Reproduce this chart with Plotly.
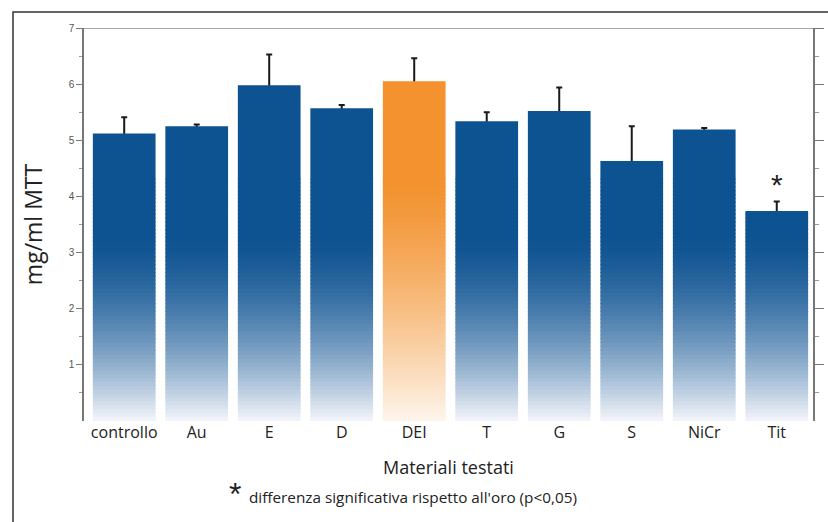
import numpy as np
import plotly.graph_objects as go

categories = ["controllo", "Au", "E", "D", "DEI", "T", "G", "S", "NiCr", "Tit"]
values = [5.12, 5.25, 5.98, 5.57, 6.05, 5.34, 5.52, 4.63, 5.19, 3.74]
err_plus = [0.29, 0.03, 0.55, 0.06, 0.41, 0.16, 0.42, 0.62, 0.03, 0.17]
highlight = "DEI"
significant = ["Tit"]
y_ticks = [1, 2, 3, 4, 5, 6, 7]
minor_ticks = [0.5, 1.5, 2.5, 3.5, 4.5, 5.5, 6.5]

blue = np.array([13, 82, 145])
orange = np.array([243, 146, 47])
white_b = np.array([244, 246, 251])
white_o = np.array([254, 246, 236])

def mix(c, w, t):
    r = w + (c - w) * t
    return "rgb(%d,%d,%d)" % tuple(r.astype(int))

def blue_at(v):
    t = 1 - max(0, 1 - v / 3.4) ** 1.6
    return mix(blue, white_b, t)

def orange_at(v):
    t = 1 - max(0, 1 - v / 4.3) ** 1.3
    return mix(orange, white_o, t)

fig = go.Figure()

# error bars first so the bars hide the lower cap
fig.add_trace(go.Bar(x=categories, y=[v - 0.03 for v in values], width=0.865,
                     marker=dict(color="rgba(0,0,0,0)", line=dict(width=0)),
                     error_y=dict(type="data", symmetric=False, array=[e + 0.03 for e in err_plus],
                                  arrayminus=[0] * len(values), color="#1a1a1a",
                                  thickness=2, width=3),
                     showlegend=False, hoverinfo="skip"))

# fake vertical gradient: stack thin slices, colour depends on height
fade_top = 4.3
edges = np.linspace(0, fade_top, 63)
for i in range(len(edges) - 1):
    lo, hi = edges[i], edges[i + 1]
    mid = (lo + hi) / 2
    heights = [max(0, min(v, hi) - lo) for v in values]
    heights = [h + 0.02 if h > 0 and v > hi else h for h, v in zip(heights, values)]
    cols = [orange_at(mid) if c == highlight else blue_at(mid) for c in categories]
    fig.add_trace(go.Bar(x=categories, y=heights, base=[lo] * len(values),
                         marker=dict(color=cols, line=dict(width=0)), width=0.865,
                         showlegend=False, hoverinfo="skip"))

# solid part above the fade
top_h = [max(0, v - fade_top) for v in values]
top_cols = ["rgb(%d,%d,%d)" % tuple(orange) if c == highlight else "rgb(%d,%d,%d)" % tuple(blue) for c in categories]
fig.add_trace(go.Bar(x=categories, y=top_h, base=[fade_top] * len(values),
                     marker=dict(color=top_cols, line=dict(width=0)), width=0.865,
                     showlegend=False, hoverinfo="skip"))

for c in significant:
    i = categories.index(c)
    fig.add_annotation(x=c, y=values[i] + err_plus[i] + 0.3, text="*", showarrow=False,
                       font=dict(size=30, color="#222", family="Liberation Sans"))

# frame and top line
fig.add_shape(type="line", xref="paper", yref="y", x0=0, x1=1, y0=7, y1=7,
              line=dict(color="#8a8a8a", width=1.5))
fig.add_shape(type="path", xref="paper", yref="paper",
              path="M -0.0974,-0.3 L -0.0974,1.0407 L 1.03,1.0407",
              line=dict(color="#333", width=1.5))

fig.add_annotation(xref="paper", yref="paper", x=0.5, y=-0.117, yanchor="middle",
                   text="Materiali testati",
                   showarrow=False, font=dict(size=18, color="#222"))
fig.add_annotation(xref="paper", yref="paper", x=0.1955, y=-0.185, yanchor="middle", text="*",
                   showarrow=False, font=dict(size=32, color="#222", family="Liberation Sans"))
fig.add_annotation(xref="paper", yref="paper", x=0.224, y=-0.193, xanchor="left", yanchor="middle",
                   text="differenza significativa rispetto all'oro (p<0,05)",
                   showarrow=False, font=dict(size=15.3, color="#222"))

fig.update_layout(
    width=828, height=522,
    margin=dict(l=84, r=15, t=28, b=101),
    barmode="overlay", bargap=0.135,
    paper_bgcolor="white", plot_bgcolor="white",
    font=dict(family="Open Sans", color="#222"),
    xaxis=dict(showline=False, ticks="", tickfont=dict(size=16, color="#222"),
               showgrid=False, zeroline=False, automargin=False),
    yaxis=dict(range=[0, 7], tickvals=y_ticks, ticks="outside", ticklen=6,
               tickcolor="#777", showline=True, linecolor="#777", linewidth=1.5,
               showgrid=False, zeroline=False, automargin=False,
               tickfont=dict(size=10, color="#555", family="Liberation Sans"),
               minor=dict(tickvals=minor_ticks, ticks="outside", ticklen=3, tickcolor="#999"),
               title=dict(text="mg/ml MTT", font=dict(size=23, color="#222"), standoff=20)),
    yaxis2=dict(range=[0, 7], overlaying="y", side="right", tickvals=y_ticks,
                ticks="outside", ticklen=9, tickcolor="#777", showticklabels=False,
                showline=True, linecolor="#777", linewidth=1.5, showgrid=False, zeroline=False,
                automargin=False,
                minor=dict(tickvals=minor_ticks, ticks="outside", ticklen=4, tickcolor="#999")),
)
# dummy trace so the right axis is drawn
fig.add_trace(go.Scatter(x=[categories[0]], y=[None], yaxis="y2", showlegend=False))

fig.write_html("out.html", config={"displayModeBar": False},
               post_script="document.body.style.margin='0';")
